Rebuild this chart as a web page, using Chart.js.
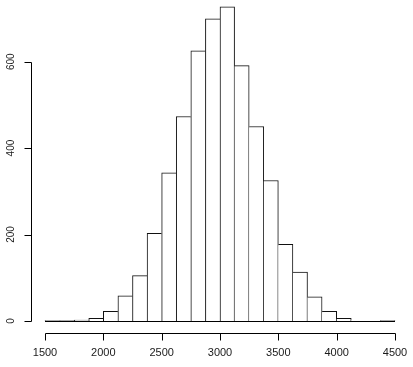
<!DOCTYPE html>
<html>
<head>
<meta charset="utf-8">
<script src="https://cdn.jsdelivr.net/npm/chart.js@4"></script>
<style>
html,body{margin:0;padding:0;background:#fff;}
#wrap{width:413px;height:367px;position:relative;}
</style>
</head>
<body>
<div id="wrap"><canvas id="c" width="413" height="367"></canvas></div>
<script>
// Histogram bin edges (width 125) and counts
const binEdges = [1500,1625,1750,1875,2000,2125,2250,2375,2500,2625,2750,2875,3000,3125,3250,3375,3500,3625,3750,3875,4000,4125,4250,4375,4500];
const counts   = [1,1,2,6,22,58,105,203,343,473,625,699,727,591,450,325,177,113,56,22,6,0,0,1];
const xTickLabels = [1500,2000,2500,3000,3500,4000,4500];
const yTickLabels = [0,200,400,600];

const points = counts.map((c,i)=>({x:(binEdges[i]+binEdges[i+1])/2, y:c}));
const xLo = binEdges[0], xHi = binEdges[binEdges.length-1];
const xPad = (xHi-xLo)*0.04;
const yMaxData = Math.max(...counts);
const yPad = yMaxData*0.04;

const rAxes = {
  id:'rAxes',
  afterDatasetsDraw(chart){
    const ctx = chart.ctx, xs = chart.scales.x, ys = chart.scales.y;
    const ca = chart.chartArea;
    ctx.save();
    ctx.strokeStyle = '#000';
    ctx.lineWidth = 1;
    // baseline of histogram (zero-height rectangles)
    const y0 = Math.round(ys.getPixelForValue(0))+0.5;
    ctx.beginPath();
    ctx.moveTo(xs.getPixelForValue(xLo), y0);
    ctx.lineTo(xs.getPixelForValue(xHi), y0);
    ctx.stroke();
    // x axis
    const ax = Math.floor(ca.bottom)+0.5;
    ctx.beginPath();
    ctx.moveTo(Math.round(xs.getPixelForValue(xTickLabels[0]))+0.5, ax);
    ctx.lineTo(Math.round(xs.getPixelForValue(xTickLabels[xTickLabels.length-1]))+0.5, ax);
    xTickLabels.forEach(v=>{
      const px = Math.round(xs.getPixelForValue(v))+0.5;
      ctx.moveTo(px, ax); ctx.lineTo(px, ax+7);
    });
    ctx.stroke();
    ctx.fillStyle = '#1a1a1a';
    ctx.font = '11px "Liberation Sans", Arial, sans-serif';
    ctx.textAlign = 'center';
    ctx.textBaseline = 'middle';
    xTickLabels.forEach(v=>{
      ctx.fillText(String(v), xs.getPixelForValue(v), ax+19.5);
    });
    // y axis
    const ay = Math.floor(ca.left)+0.5;
    ctx.beginPath();
    ctx.moveTo(ay, Math.round(ys.getPixelForValue(yTickLabels[0]))+0.5);
    ctx.lineTo(ay, Math.round(ys.getPixelForValue(yTickLabels[yTickLabels.length-1]))+0.5);
    yTickLabels.forEach(v=>{
      const py = Math.round(ys.getPixelForValue(v))+0.5;
      ctx.moveTo(ay, py); ctx.lineTo(ay-7, py);
    });
    ctx.stroke();
    ctx.font = '10px "Liberation Sans", Arial, sans-serif';
    yTickLabels.forEach(v=>{
      const py = ys.getPixelForValue(v);
      ctx.save();
      ctx.translate(ay-20.5, py);
      ctx.rotate(-Math.PI/2);
      ctx.fillText(String(v), 0, 0);
      ctx.restore();
    });
    ctx.restore();
  }
};

function bw(i){
  const v = counts[i];
  const prev = i>0 ? counts[i-1] : -1;
  const next = i<counts.length-1 ? counts[i+1] : -1;
  return {top:1, left: v>=prev ? 1 : 0, right: v>next ? 1 : 0, bottom:0};
}

new Chart(document.getElementById('c'), {
  type:'bar',
  data:{datasets:[{
    data: points,
    backgroundColor:'#ffffff',
    borderColor:'#111111',
    borderWidth: (c)=>bw(c.dataIndex),
    borderSkipped:'start',
    barPercentage:1,
    categoryPercentage:1
  }]},
  options:{
    responsive:false,
    animation:false,
    events:[],
    layout:{padding:{left:31,right:4,top:0,bottom:33.5}},
    plugins:{legend:{display:false},tooltip:{enabled:false}},
    scales:{
      x:{type:'linear',display:false,offset:false,min:xLo-xPad,max:xHi+xPad},
      y:{type:'linear',display:false,min:-yPad,max:742.7}
    }
  },
  plugins:[rAxes]
});
</script>
</body>
</html>
